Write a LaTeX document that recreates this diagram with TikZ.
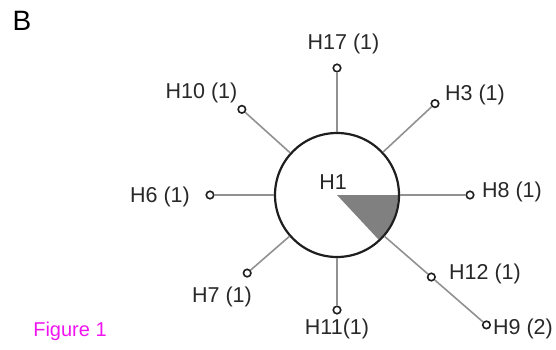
\documentclass[tikz,border=0pt]{standalone}
\usepackage{fontspec}
\setmainfont{Liberation Sans}
\usepackage{xcolor}
\definecolor{bondgray}{RGB}{145,145,145}
\definecolor{ringdark}{RGB}{30,30,30}
\definecolor{labelgray}{RGB}{40,40,40}
\definecolor{wedgegray}{RGB}{128,128,128}
\definecolor{figmagenta}{RGB}{240,20,240}
\usepackage{tikz}

\begin{document}
\begin{tikzpicture}[
  x=1pt, y=1pt,
  tip/.style={circle, draw=ringdark, line width=1.6pt, fill=white,
    inner sep=0pt, minimum size=7.5pt},
  bond/.style={draw=bondgray, line width=1.6pt},
  hlabel/.style={font=\fontsize{21.5}{21.5}\selectfont, text=labelgray,
    inner sep=0pt},
]
\useasboundingbox (0,0) rectangle (556,349);
\coordinate (c) at (337,154);
\fill[wedgegray] (c) -- ++(0:61) arc[start angle=0, end angle=-47, radius=61] -- cycle;
\node[circle, draw=ringdark, line width=2.2pt, minimum size=124pt, inner sep=0pt] (ring) at (c) {};

\node[tip] (h17) at ([shift={(90:127)}]c) {};
\node[tip] (h3)  at ([shift={(43:134)}]c) {};
\node[tip] (h8)  at ([shift={(0:133)}]c) {};
\node[tip] (h12) at ([shift={(-41:125)}]c) {};
\node[tip] (h9)  at ([shift={(-41:198)}]c) {};
\node[tip] (h11) at ([shift={(-90:115)}]c) {};
\node[tip] (h7)  at ([shift={(221:119)}]c) {};
\node[tip] (h6)  at ([shift={(180:127)}]c) {};
\node[tip] (h10) at ([shift={(138:128)}]c) {};

\foreach \h in {h17, h3, h8, h11, h7, h6, h10}
  \draw[bond] (ring) -- (\h);
\draw[bond] (ring) -- (h12) -- (h9);

\node[hlabel] (l1)  at (333,167) {H1};
\node[hlabel] (l17) at (343.5,305) {H17 (1)};
\node[hlabel] (l10) at (201.5,256) {H10 (1)};
\node[hlabel] (l3)  at (475,254) {H3 (1)};
\node[hlabel] (l8)  at (512,157) {H8 (1)};
\node[hlabel] (l12) at (485,75) {H12 (1)};
\node[hlabel] (l9)  at (523,20) {H9 (2)};
\node[hlabel] (l6)  at (160,152) {H6 (1)};
\node[hlabel] (l7)  at (222,52) {H7 (1)};
\node[hlabel] (l11) at (337,20) {H11(1)};

\node[font=\fontsize{20}{20}\selectfont, text=figmagenta, inner sep=0pt] (fig) at (70,18) {Figure 1};
\node[font=\fontsize{28}{28}\selectfont, inner sep=0pt] (panel) at (22,328) {B};
\end{tikzpicture}
\end{document}
